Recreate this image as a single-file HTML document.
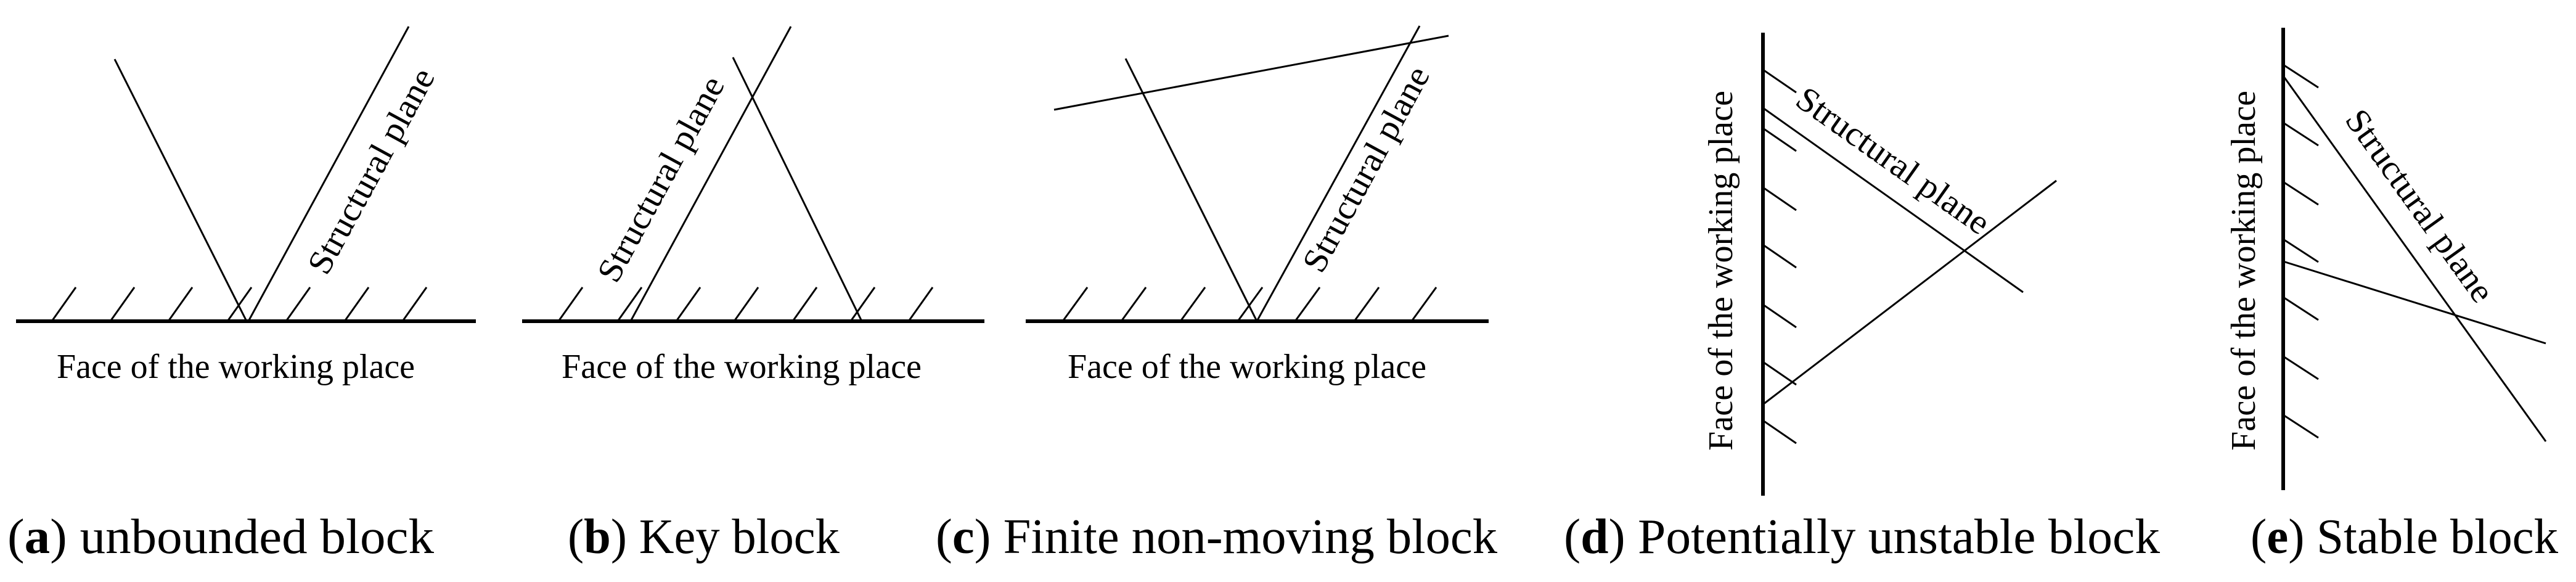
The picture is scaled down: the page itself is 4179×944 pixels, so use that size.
<!DOCTYPE html>
<html><head><meta charset="utf-8"><style>html,body{margin:0;padding:0;background:#fff;}svg{display:block}</style></head>
<body>
<svg width="4179" height="944" viewBox="0 0 4179 944" xmlns="http://www.w3.org/2000/svg" font-family="'Liberation Serif', serif" fill="#000">
<g stroke="#000" stroke-width="3" fill="none">
<!-- a -->
<line x1="26" y1="521" x2="772" y2="521" stroke-width="6"/>
<g><line x1="84" y1="521" x2="123" y2="466"/><line x1="179" y1="521" x2="218" y2="466"/><line x1="273" y1="521" x2="312" y2="466"/><line x1="369" y1="521" x2="408" y2="466"/><line x1="464" y1="521" x2="503" y2="466"/><line x1="559" y1="521" x2="598" y2="466"/><line x1="653" y1="521" x2="692" y2="466"/></g>
<line x1="186" y1="96" x2="400" y2="521"/>
<line x1="663" y1="43" x2="403" y2="521"/>
<!-- b -->
<line x1="847" y1="521" x2="1597" y2="521" stroke-width="6"/>
<g><line x1="906" y1="521" x2="945" y2="466"/><line x1="1002" y1="521" x2="1041" y2="466"/><line x1="1097" y1="521" x2="1136" y2="466"/><line x1="1191" y1="521" x2="1230" y2="466"/><line x1="1286" y1="521" x2="1325" y2="466"/><line x1="1380" y1="521" x2="1419" y2="466"/><line x1="1474" y1="521" x2="1513" y2="466"/></g>
<line x1="1283" y1="43" x2="1023" y2="521"/>
<line x1="1189" y1="93" x2="1398" y2="521"/>
<!-- c -->
<line x1="1664" y1="521" x2="2415" y2="521" stroke-width="6"/>
<g><line x1="1724" y1="521" x2="1764" y2="466"/><line x1="1819" y1="521" x2="1859" y2="466"/><line x1="1915" y1="521" x2="1955" y2="466"/><line x1="2008" y1="521" x2="2048" y2="466"/><line x1="2101" y1="521" x2="2141" y2="466"/><line x1="2197" y1="521" x2="2237" y2="466"/><line x1="2290" y1="521" x2="2330" y2="466"/></g>
<line x1="1826" y1="95" x2="2039" y2="521"/>
<line x1="2303" y1="42" x2="2039" y2="521"/>
<line x1="1710" y1="178" x2="2350" y2="58"/>
<!-- d -->
<line x1="2860" y1="53" x2="2860" y2="804" stroke-width="6"/>
<g><line x1="2860" y1="113" x2="2914" y2="150"/><line x1="2860" y1="208" x2="2914" y2="245"/><line x1="2860" y1="304" x2="2914" y2="341"/><line x1="2860" y1="397" x2="2914" y2="434"/><line x1="2860" y1="494" x2="2914" y2="531"/><line x1="2860" y1="587" x2="2914" y2="624"/><line x1="2860" y1="682" x2="2914" y2="719"/></g>
<line x1="2860" y1="175" x2="3282" y2="474"/>
<line x1="2860" y1="656" x2="3336" y2="293"/>
<!-- e -->
<line x1="3704" y1="45" x2="3704" y2="795" stroke-width="6"/>
<g><line x1="3704" y1="105" x2="3761" y2="142"/><line x1="3704" y1="199" x2="3761" y2="236"/><line x1="3704" y1="295" x2="3761" y2="332"/><line x1="3704" y1="388" x2="3761" y2="425"/><line x1="3704" y1="482" x2="3761" y2="519"/><line x1="3704" y1="578" x2="3761" y2="615"/><line x1="3704" y1="673" x2="3761" y2="710"/></g>
<line x1="3704" y1="123" x2="4130" y2="716"/>
<line x1="3704" y1="424" x2="4130" y2="557"/>
</g>
<g font-size="56">
<text transform="translate(607,280) rotate(-61.5)" text-anchor="middle" dominant-baseline="middle" textLength="370" lengthAdjust="spacingAndGlyphs">Structural plane</text>
<text transform="translate(1077,293) rotate(-61.5)" text-anchor="middle" dominant-baseline="middle" textLength="370" lengthAdjust="spacingAndGlyphs">Structural plane</text>
<text transform="translate(2221,277) rotate(-61.5)" text-anchor="middle" dominant-baseline="middle" textLength="370" lengthAdjust="spacingAndGlyphs">Structural plane</text>
<text transform="translate(3068,265) rotate(35.3)" text-anchor="middle" dominant-baseline="middle" textLength="370" lengthAdjust="spacingAndGlyphs">Structural plane</text>
<text transform="translate(3921,337) rotate(54.3)" text-anchor="middle" dominant-baseline="middle" textLength="370" lengthAdjust="spacingAndGlyphs">Structural plane</text>
<text x="92" y="613" textLength="581" lengthAdjust="spacingAndGlyphs">Face of the working place</text>
<text x="911" y="613" textLength="584" lengthAdjust="spacingAndGlyphs">Face of the working place</text>
<text x="1732" y="613" textLength="582" lengthAdjust="spacingAndGlyphs">Face of the working place</text>
</g>
<g font-size="56">
<text transform="translate(2810,439) rotate(-90)" text-anchor="middle" textLength="584" lengthAdjust="spacingAndGlyphs">Face of the working place</text>
<text transform="translate(3658,439) rotate(-90)" text-anchor="middle" textLength="584" lengthAdjust="spacingAndGlyphs">Face of the working place</text>
</g>
<g font-size="80">
<text x="12" y="897" textLength="692" lengthAdjust="spacingAndGlyphs">(<tspan font-weight="bold">a</tspan>) unbounded block</text>
<text x="921" y="897" textLength="441" lengthAdjust="spacingAndGlyphs">(<tspan font-weight="bold">b</tspan>) Key block</text>
<text x="1518" y="897" textLength="911" lengthAdjust="spacingAndGlyphs">(<tspan font-weight="bold">c</tspan>) Finite non-moving block</text>
<text x="2537" y="897" textLength="967" lengthAdjust="spacingAndGlyphs">(<tspan font-weight="bold">d</tspan>) Potentially unstable block</text>
<text x="3651" y="897" textLength="499" lengthAdjust="spacingAndGlyphs">(<tspan font-weight="bold">e</tspan>) Stable block</text>
</g>
</svg>
</body></html>
